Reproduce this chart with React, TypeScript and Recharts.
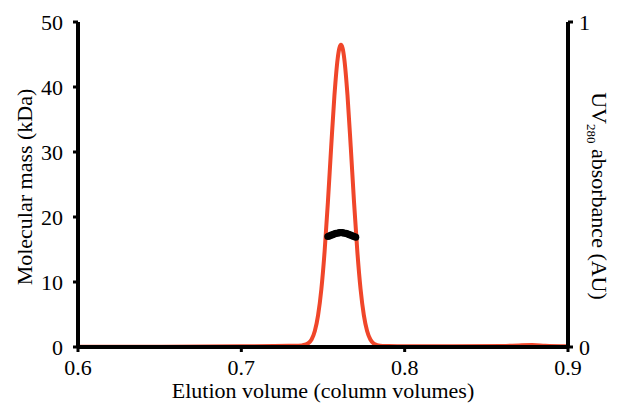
import { ComposedChart, Line, Scatter, XAxis, YAxis } from 'recharts';

// elution volume (column volumes) for the UV trace
const uvVolume = [
  0.6, 0.65, 0.7, 0.72, 0.73, 0.737, 0.739, 0.741, 0.743, 0.745, 0.747, 0.749, 0.751, 0.753,
  0.755, 0.757, 0.759, 0.76, 0.761, 0.762, 0.763, 0.765, 0.767, 0.769, 0.771, 0.773, 0.775,
  0.777, 0.779, 0.781, 0.783, 0.785, 0.79, 0.8, 0.83, 0.86, 0.87, 0.878, 0.886, 0.9,
];
// UV280 absorbance (AU)
const uvAbsorbance = [
  0.001, 0.001, 0.002, 0.003, 0.004, 0.005, 0.007, 0.012, 0.023, 0.049, 0.098, 0.178, 0.295,
  0.446, 0.615, 0.774, 0.888, 0.919, 0.93, 0.919, 0.888, 0.774, 0.615, 0.446, 0.295, 0.178,
  0.098, 0.049, 0.023, 0.011, 0.006, 0.004, 0.003, 0.002, 0.002, 0.003, 0.005, 0.006, 0.004, 0.002,
];

// molecular mass (kDa) across the peak
const massVolume = [
  0.753, 0.754, 0.755, 0.756, 0.757, 0.758, 0.759, 0.76, 0.761, 0.762, 0.763, 0.764, 0.765,
  0.766, 0.767, 0.768, 0.769, 0.77,
];
const massKDa = [
  17.0, 17.1, 17.2, 17.3, 17.4, 17.5, 17.5, 17.6, 17.6, 17.6, 17.5, 17.5, 17.4, 17.3, 17.2,
  17.1, 17.0, 16.9,
];

const xTicks = [0.6, 0.7, 0.8, 0.9];
const massTicks = [0, 10, 20, 30, 40, 50];
const uvTicks = [0, 1];

const uvData = uvVolume.map((x, i) => ({ x, uv: uvAbsorbance[i] }));
const massData = massVolume.map((x, i) => ({ x, mass: massKDa[i] }));

const FONT = '"Liberation Serif", "Times New Roman", serif';
const FS = 22;
const tickStyle = { fill: '#000', fontSize: FS, fontFamily: FONT };
const axisLine = { stroke: '#000', strokeWidth: 4 };
const tickLine = { stroke: '#000', strokeWidth: 3 };

const Dot = (props: any) => <circle cx={props.cx} cy={props.cy} r={3.6} fill="#000" />;

const BottomLabel = (props: any) => {
  const vb = props.viewBox;
  return (
    <text x={vb.x + vb.width / 2} y={398} textAnchor="middle" fontFamily={FONT} fontSize={FS} fill="#000">
      Elution volume (column volumes)
    </text>
  );
};

const LeftLabel = () => {
  const x = 32;
  const y = 187;
  return (
    <text
      x={x}
      y={y}
      transform={`rotate(-90, ${x}, ${y})`}
      textAnchor="middle"
      fontFamily={FONT}
      fontSize={FS}
      fill="#000"
    >
      Molecular mass (kDa)
    </text>
  );
};

const RightLabel = () => {
  const x = 592;
  const y = 196;
  return (
    <text
      x={x}
      y={y}
      transform={`rotate(90, ${x}, ${y})`}
      textAnchor="middle"
      fontFamily={FONT}
      fontSize={FS}
      fill="#000"
    >
      UV
      <tspan fontSize={13} dy={5}>280</tspan>
      <tspan dy={-5}> absorbance (AU)</tspan>
    </text>
  );
};

export default function App() {
  return (
    <div style={{ position: 'absolute', left: 0, top: 0, background: '#fff' }}>
      <ComposedChart width={618} height={404} margin={{ top: 22, right: 0, bottom: 0, left: 0 }}>
        <XAxis
          type="number"
          dataKey="x"
          domain={[0.6, 0.9]}
          ticks={xTicks}
          allowDataOverflow
          height={57}
          tick={tickStyle}
          tickFormatter={(v: number) => v.toFixed(1)}
          axisLine={axisLine}
          tickLine={tickLine}
          tickSize={5}
          tickMargin={7}
          label={<BottomLabel />}
        />
        <YAxis
          yAxisId="mass"
          orientation="left"
          domain={[0, 50]}
          ticks={massTicks}
          width={78}
          tick={tickStyle}
          axisLine={axisLine}
          tickLine={tickLine}
          tickSize={5}
          tickMargin={10}
          label={<LeftLabel />}
        />
        <YAxis
          yAxisId="uv"
          orientation="right"
          domain={[0, 1]}
          ticks={uvTicks}
          width={50}
          tick={tickStyle}
          axisLine={axisLine}
          tickLine={tickLine}
          tickSize={5}
          tickMargin={6}
          label={<RightLabel />}
        />
        <Line
          yAxisId="uv"
          data={uvData}
          dataKey="uv"
          type="monotone"
          stroke="#F0462A"
          strokeWidth={4}
          dot={false}
          isAnimationActive={false}
        />
        <Scatter
          yAxisId="mass"
          data={massData}
          dataKey="mass"
          fill="#000"
          shape={<Dot />}
          isAnimationActive={false}
        />
      </ComposedChart>
    </div>
  );
}
